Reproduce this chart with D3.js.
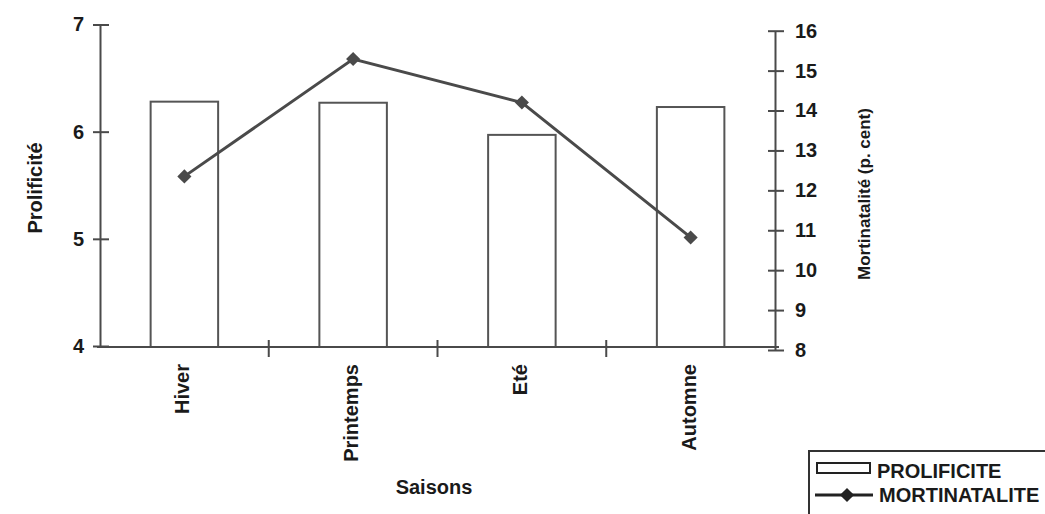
<!DOCTYPE html>
<html>
<head>
<meta charset="utf-8">
<script src="https://cdn.jsdelivr.net/npm/d3@7"></script>
<style>
  html, body { margin: 0; padding: 0; background: #fff; }
  svg { display: block; font-family: "Liberation Sans", Arial, sans-serif; font-weight: bold; }
</style>
</head>
<body>
<svg id="chart" width="1045" height="514"></svg>
<script>
// ---- data ----
const categories = ["Hiver", "Printemps", "Eté", "Automne"];
const prolificite = [6.28, 6.27, 5.97, 6.23];
const mortinatalite = [12.35, 15.29, 14.2, 10.82];
const leftTicks = [4, 5, 6, 7];
const rightTicks = [8, 9, 10, 11, 12, 13, 14, 15, 16];
const seriesNames = ["PROLIFICITE", "MORTINATALITE"];
const axisTitles = { x: "Saisons", left: "Prolificité", right: "Mortinatalité (p. cent)" };

const ink = "#1a1a1a";
const lineCol = "#4a4a4a";
const svg = d3.select("#chart");

const x = d3.scaleBand().domain(categories).range([100, 775]).paddingInner(0.6).paddingOuter(0.3);
const xb = d3.scaleBand().domain(categories).range([100, 775]).padding(0);
const yL = d3.scaleLinear().domain([4, 7]).range([346, 24.5]);
const yR = d3.scaleLinear().domain([8, 16]).range([350, 30.7]);
const baseY = 347;

// bars
svg.append("g").selectAll("rect").data(categories).join("rect")
  .attr("x", d => x(d))
  .attr("y", (d, i) => yL(prolificite[i]))
  .attr("width", x.bandwidth())
  .attr("height", (d, i) => baseY - yL(prolificite[i]))
  .attr("fill", "#fff").attr("stroke", "#555").attr("stroke-width", 2);

// left axis
const gL = svg.append("g").attr("transform", "translate(100,0)")
  .call(d3.axisLeft(yL).tickValues(leftTicks).tickSize(0).tickPadding(16).tickFormat(d3.format("d")));
gL.select(".domain").attr("stroke", lineCol).attr("stroke-width", 2);
gL.selectAll(".tick line").attr("x1", -7).attr("x2", 9).attr("stroke", lineCol).attr("stroke-width", 2);
gL.selectAll(".tick text").attr("fill", ink).attr("font-size", 20).attr("font-weight", "bold").attr("font-family", "Liberation Sans, Arial, sans-serif");

// right axis
const gR = svg.append("g").attr("transform", "translate(775,0)")
  .call(d3.axisRight(yR).tickValues(rightTicks).tickSize(0).tickPadding(20).tickFormat(d3.format("d")));
gR.select(".domain").attr("stroke", lineCol).attr("stroke-width", 2);
gR.selectAll(".tick line").attr("x1", -7).attr("x2", 9).attr("stroke", lineCol).attr("stroke-width", 2);
gR.selectAll(".tick text").attr("fill", ink).attr("font-size", 20).attr("font-weight", "bold").attr("font-family", "Liberation Sans, Arial, sans-serif");

// x axis
const gX = svg.append("g").attr("transform", `translate(0,${baseY})`)
  .call(d3.axisBottom(xb).tickSize(0).tickFormat(""));
gX.select(".domain").attr("d", "M97,0H779").attr("stroke", lineCol).attr("stroke-width", 2);
gX.selectAll(".tick").remove();
svg.append("g").selectAll("line").data(categories.slice(1)).join("line")
  .attr("x1", d => xb(d)).attr("x2", d => xb(d))
  .attr("y1", baseY - 7).attr("y2", baseY + 10)
  .attr("stroke", lineCol).attr("stroke-width", 2);

// category labels
svg.append("g").selectAll("text").data(categories).join("text")
  .attr("transform", d => `translate(${xb(d) + xb.bandwidth() / 2 + 5},364) rotate(-90)`)
  .attr("text-anchor", "end").attr("font-size", 20).attr("fill", ink)
  .text(d => d);

// line series
const line = d3.line().x((d, i) => xb(categories[i]) + xb.bandwidth() / 2).y(d => yR(d));
svg.append("path").datum(mortinatalite).attr("d", line)
  .attr("fill", "none").attr("stroke", lineCol).attr("stroke-width", 3);
const diamond = d3.symbol(d3.symbolSquare, 100);
svg.append("g").selectAll("path").data(mortinatalite).join("path")
  .attr("d", diamond)
  .attr("transform", (d, i) => `translate(${xb(categories[i]) + xb.bandwidth() / 2},${yR(d)}) rotate(45)`)
  .attr("fill", lineCol);

// axis titles
svg.append("text").attr("transform", "translate(434,494)").attr("text-anchor", "middle")
  .attr("font-size", 20).attr("fill", ink).text(axisTitles.x);
svg.append("text").attr("transform", "translate(42,188) rotate(-90)").attr("text-anchor", "middle")
  .attr("font-size", 20).attr("fill", ink).text(axisTitles.left);
svg.append("text").attr("transform", "translate(870,194) rotate(-90)").attr("text-anchor", "middle")
  .attr("font-size", 17).attr("fill", ink).text(axisTitles.right);

// legend
const lg = svg.append("g");
lg.append("rect").attr("x", 809).attr("y", 451).attr("width", 260).attr("height", 100)
  .attr("fill", "#fff").attr("stroke", "#333").attr("stroke-width", 2);
lg.append("rect").attr("x", 817).attr("y", 463).attr("width", 53).attr("height", 10)
  .attr("fill", "#fff").attr("stroke", "#222").attr("stroke-width", 2);
lg.append("text").attr("x", 877).attr("y", 478).attr("font-size", 20).attr("fill", ink).text(seriesNames[0]);
lg.append("line").attr("x1", 815).attr("x2", 873).attr("y1", 495).attr("y2", 495)
  .attr("stroke", "#222").attr("stroke-width", 3);
lg.append("path").attr("d", diamond).attr("transform", "translate(847,495) rotate(45)").attr("fill", "#222");
lg.append("text").attr("x", 879).attr("y", 502).attr("font-size", 20).attr("fill", ink).text(seriesNames[1]);
</script>
</body>
</html>
